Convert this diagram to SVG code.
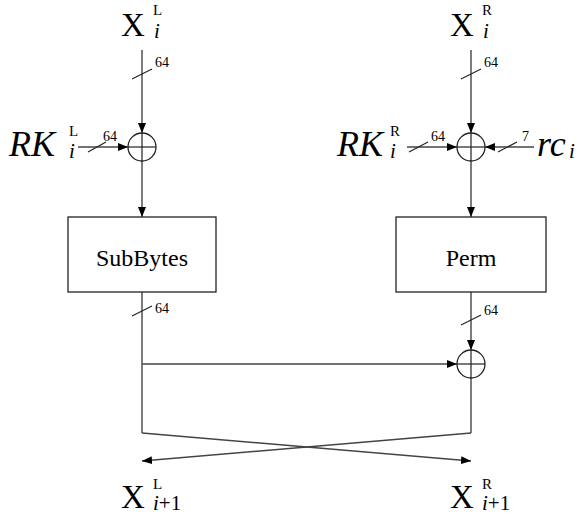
<svg xmlns="http://www.w3.org/2000/svg" width="583" height="518" viewBox="0 0 583 518">
<defs>
<marker id="ah" viewBox="0 0 10 8" refX="10" refY="4" markerWidth="10" markerHeight="8" markerUnits="userSpaceOnUse" orient="auto">
<path d="M0,0 L10,4 L0,8 Z" fill="#000"/>
</marker>
</defs>
<style>
.ln{stroke:#444;stroke-width:1.4;fill:none}
.sl{stroke:#222;stroke-width:1.2}
.bx{fill:#fff;stroke:#222;stroke-width:1.3}
.xor{fill:#fff;stroke:#222;stroke-width:1.3}
text{font-family:"Liberation Serif","Times New Roman",serif;fill:#000}
.big{font-size:33px}
.it{font-style:italic;font-size:36px}
.sup{font-size:15px}
.sub{font-size:21px;font-style:italic}
.w{font-size:14px}
.lab{font-size:24px;text-anchor:middle}
</style>
<g id="connectors">
<line class="ln" x1="142" y1="50" x2="142" y2="133" marker-end="url(#ah)"/>
<line class="ln" x1="142" y1="161" x2="142" y2="217" marker-end="url(#ah)"/>
<line class="ln" x1="78" y1="147" x2="128" y2="147" marker-end="url(#ah)"/>
<line class="ln" x1="471" y1="50" x2="471" y2="133" marker-end="url(#ah)"/>
<line class="ln" x1="471" y1="161" x2="471" y2="217" marker-end="url(#ah)"/>
<line class="ln" x1="407" y1="147" x2="457" y2="147" marker-end="url(#ah)"/>
<line class="ln" x1="534" y1="147" x2="485" y2="147" marker-end="url(#ah)"/>
<line class="ln" x1="142" y1="292" x2="142" y2="433"/>
<line class="ln" x1="142" y1="364" x2="457" y2="364" marker-end="url(#ah)"/>
<line class="ln" x1="471" y1="292" x2="471" y2="350" marker-end="url(#ah)"/>
<line class="ln" x1="471" y1="378" x2="471" y2="433"/>
<line class="ln" x1="142" y1="433" x2="471" y2="461" marker-end="url(#ah)"/>
<line class="ln" x1="471" y1="433" x2="142" y2="461" marker-end="url(#ah)"/>
<line class="sl" x1="132" y1="79" x2="152" y2="69"/>
<line class="sl" x1="88" y1="152" x2="106" y2="142"/>
<line class="sl" x1="461" y1="79" x2="481" y2="69"/>
<line class="sl" x1="409" y1="152" x2="428" y2="142"/>
<line class="sl" x1="498" y1="152" x2="517" y2="142"/>
<line class="sl" x1="132" y1="316" x2="152" y2="306"/>
<line class="sl" x1="461" y1="325" x2="481" y2="315"/>
<text class="w" x="155" y="67">64</text>
<text class="w" x="103" y="141">64</text>
<text class="w" x="484" y="67">64</text>
<text class="w" x="431" y="141">64</text>
<text class="w" x="522" y="141">7</text>
<text class="w" x="155" y="313">64</text>
<text class="w" x="484" y="315">64</text>
</g>
<g id="xor-left"><circle class="xor" cx="142" cy="147" r="14"/><line class="sl" x1="128" y1="147" x2="156" y2="147"/><line class="sl" x1="142" y1="133" x2="142" y2="161"/></g>
<g id="xor-right"><circle class="xor" cx="471" cy="147" r="14"/><line class="sl" x1="457" y1="147" x2="485" y2="147"/><line class="sl" x1="471" y1="133" x2="471" y2="161"/></g>
<g id="xor-bottom"><circle class="xor" cx="471" cy="364" r="14"/><line class="sl" x1="457" y1="364" x2="485" y2="364"/><line class="sl" x1="471" y1="350" x2="471" y2="378"/></g>
<g id="subbytes"><rect class="bx" x="68" y="217" width="148" height="75"/><text class="lab" x="142" y="266">SubBytes</text></g>
<g id="perm"><rect class="bx" x="396" y="217" width="150" height="75"/><text class="lab" x="471" y="266">Perm</text></g>
<g id="xl-in"><text class="big" x="121" y="36">X</text><text class="sup" x="153" y="15">L</text><text class="sub" x="154" y="38">i</text></g>
<g id="xr-in"><text class="big" x="450" y="36">X</text><text class="sup" x="482" y="15">R</text><text class="sub" x="483" y="38">i</text></g>
<g id="rkl"><text class="it" x="9" y="156">RK</text><text class="sup" x="69" y="136">L</text><text class="sub" x="69" y="158">i</text></g>
<g id="rkr"><text class="it" x="337" y="156">RK</text><text class="sup" x="390" y="136">R</text><text class="sub" x="390" y="158">i</text></g>
<g id="rc"><text class="it" x="537" y="156">rc</text><text class="sub" x="569" y="158">i</text></g>
<g id="xl-out"><text class="big" x="121" y="508">X</text><text class="sup" x="153" y="489">L</text><text class="sub" x="153" y="510">i<tspan font-style="normal">+1</tspan></text></g>
<g id="xr-out"><text class="big" x="450" y="508">X</text><text class="sup" x="482" y="489">R</text><text class="sub" x="482" y="510">i<tspan font-style="normal">+1</tspan></text></g>
</svg>
